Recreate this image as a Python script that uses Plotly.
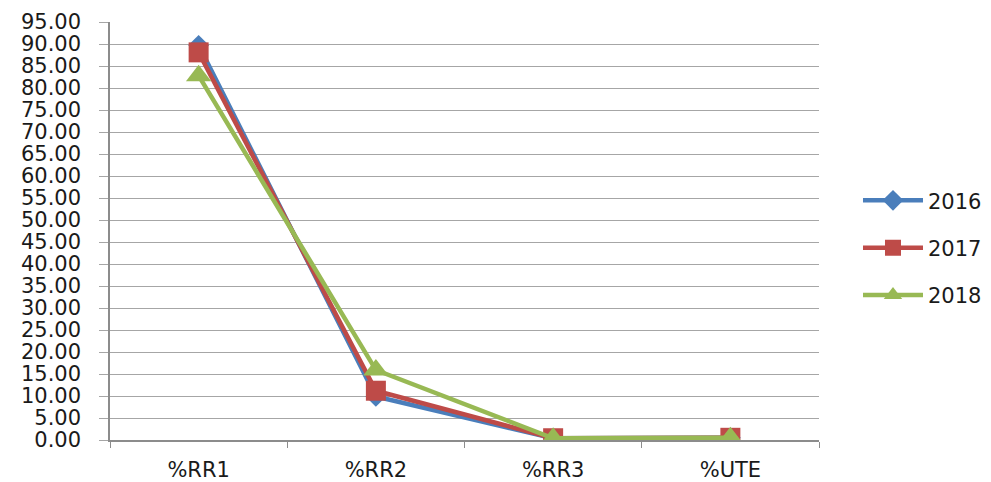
import plotly.graph_objects as go

categories = ["%RR1", "%RR2", "%RR3", "%UTE"]
v2016 = [89.7, 9.9, 0.4, 0.5]
v2017 = [88.1, 11.2, 0.4, 0.5]
v2018 = [82.8, 15.9, 0.4, 0.5]

series = [
    ("2016", v2016, "#4A7EBB", "diamond", 16),
    ("2017", v2017, "#BE4B48", "square", 20),
    ("2018", v2018, "#98B954", "triangle-up", 22),
]

fig = go.Figure()
for name, vals, color, sym, size in series:
    fig.add_trace(go.Scatter(x=categories, y=vals, name=name, mode="lines+markers",
                             legendgroup=name,
                             line=dict(color=color, width=4.5),
                             marker=dict(symbol=sym, size=size, color=color)))

font = dict(family="DejaVu Sans", size=21, color="#1A1A1A")
fig.update_layout(
    width=991, height=482,
    margin=dict(l=102, r=175, t=14, b=50),
    paper_bgcolor="white", plot_bgcolor="white",
    font=font,
    showlegend=True,
    legend=dict(x=1.055, y=0.46, xanchor="left", yanchor="middle",
                font=dict(family="DejaVu Sans", size=21, color="#1A1A1A"),
                tracegroupgap=17, itemwidth=60),
    xaxis=dict(range=[-0.5, 3.5], showline=True, linecolor="#8C8C8C", linewidth=1.5,
               ticks="outside", tickson="boundaries", ticklen=6, tickcolor="#8C8C8C",
               showgrid=False, tickfont=font, ticklabelstandoff=10, automargin=False),
    yaxis=dict(range=[0, 95], dtick=5, tickformat=".2f", showline=True, linecolor="#8C8C8C",
               linewidth=1.5, ticks="outside", ticklen=9, tickcolor="#A6A6A6",
               gridcolor="#A6A6A6", gridwidth=1, zeroline=False, tickfont=font,
               ticklabelstandoff=14, automargin=False),
)
fig.write_html("out.html")
